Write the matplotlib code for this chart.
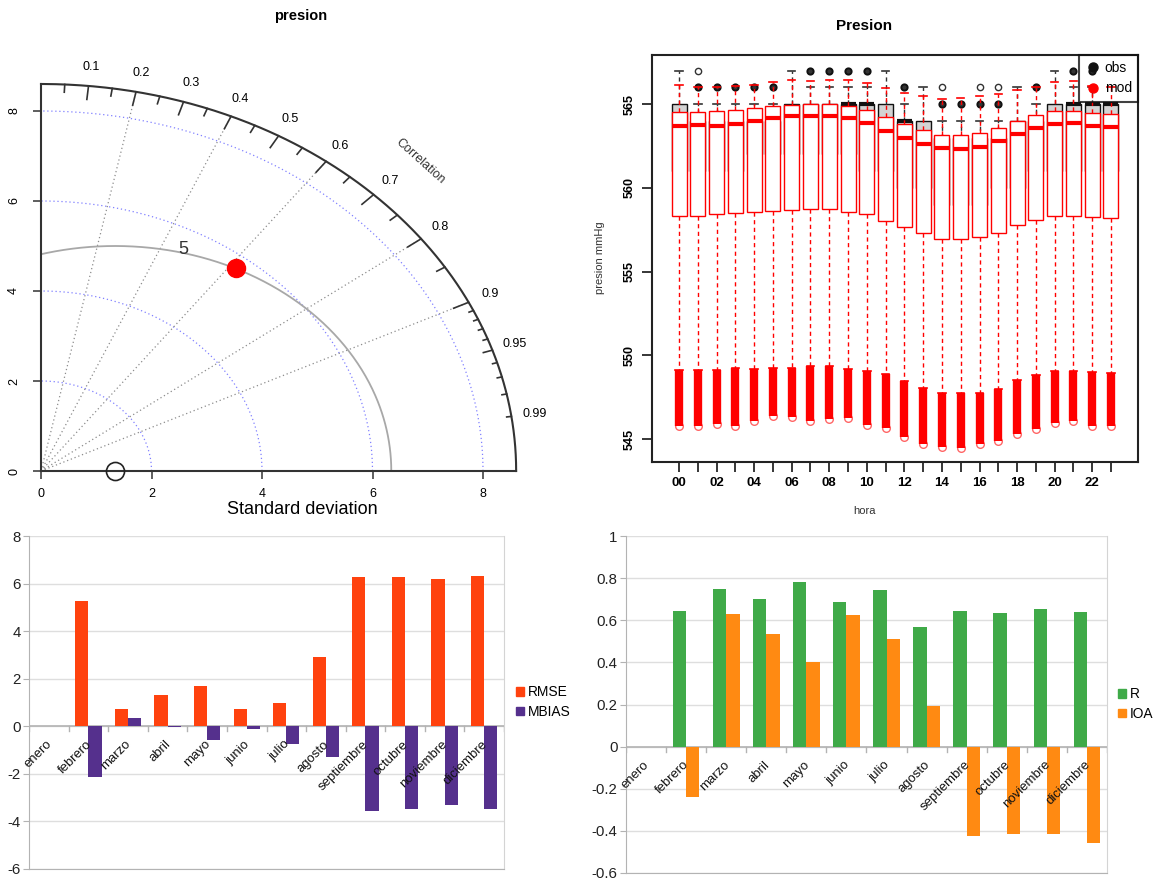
import numpy as np
import matplotlib
matplotlib.use('Agg')
import matplotlib.pyplot as plt
from matplotlib.lines import Line2D
from matplotlib.patches import Rectangle, Patch
from matplotlib.transforms import ScaledTranslation
from matplotlib import font_manager as fm

# ---------------- data ----------------
# Taylor diagram
taylor_title = 'presion'
obs_sd = 1.34
mod_sd = 5.73
mod_corr = 0.616
max_sd = 8.6
sd_ticks = [0, 2, 4, 6, 8]
sd_grid = [2, 4, 6, 8]
corr_grid = [0.2, 0.4, 0.6, 0.8, 0.9]
corr_labels = [0.1, 0.2, 0.3, 0.4, 0.5, 0.6, 0.7, 0.8, 0.9, 0.95, 0.99]
corr_big = [0.1, 0.2, 0.3, 0.4, 0.5, 0.6, 0.7, 0.8, 0.9]
corr_med = [0.05, 0.15, 0.25, 0.35, 0.45, 0.55, 0.65, 0.75, 0.85, 0.95]
corr_small = [0.91, 0.92, 0.93, 0.94, 0.96, 0.97, 0.98, 0.99]
rms_levels = [5]

# Box plot (hourly pressure)
box_title = 'Presion'
hours = list(range(24))
hour_labels = ['00', '', '02', '', '04', '', '06', '', '08', '', '10', '',
               '12', '', '14', '', '16', '', '18', '', '20', '', '22', '']
press_ticks = [545, 550, 555, 560, 565]

mod_q3 = [564.54, 564.52, 564.60, 564.64, 564.78, 564.88, 564.96, 565.00, 565.00, 564.88, 564.64, 564.20,
          563.80, 563.45, 563.17, 563.13, 563.25, 563.57, 563.97, 564.32, 564.58, 564.58, 564.46, 564.38]
mod_med = [563.71, 563.77, 563.71, 563.79, 564.00, 564.14, 564.26, 564.30, 564.26, 564.14, 563.87, 563.41,
           562.99, 562.61, 562.37, 562.31, 562.45, 562.79, 563.23, 563.59, 563.83, 563.85, 563.69, 563.61]
mod_q1 = [558.33, 558.33, 558.41, 558.47, 558.55, 558.61, 558.67, 558.73, 558.73, 558.57, 558.41, 558.03,
          557.64, 557.28, 556.94, 556.94, 557.04, 557.28, 557.76, 558.09, 558.33, 558.33, 558.27, 558.19]
mod_lo = [549.12, 549.12, 549.12, 549.22, 549.18, 549.26, 549.26, 549.38, 549.38, 549.18, 549.08, 548.88,
          548.46, 548.03, 547.73, 547.73, 547.73, 548.00, 548.52, 548.82, 549.08, 549.08, 548.98, 548.92]
mod_min = [545.80, 545.76, 545.90, 545.80, 546.10, 546.35, 546.29, 546.10, 546.17, 546.23, 545.84, 545.64,
           545.14, 544.70, 544.54, 544.48, 544.70, 544.90, 545.30, 545.58, 545.94, 546.10, 545.80, 545.80]
mod_hi = [566.13, 566.00, 566.00, 566.07, 566.13, 566.29, 566.43, 566.39, 566.43, 566.43, 566.27, 565.94,
          565.64, 565.50, 565.30, 565.38, 565.46, 565.58, 565.84, 566.00, 566.33, 566.37, 566.09, 566.00]

obs_q3 = [565, 564, 564, 564, 564, 564, 565, 565, 565, 565, 565, 565,
          564, 564, 563, 563, 563, 563, 564, 564, 565, 565, 565, 565]
obs_med = [564, 563, 563, 563, 563, 563, 564, 564, 564, 565, 565, 564,
           564, 563, 562, 562, 562, 562, 563, 563, 564, 565, 565, 565]
obs_q1 = [561, 561, 561, 561, 562, 562, 562, 562, 562, 562, 561, 561,
          560, 560, 559, 559, 559, 560, 560, 561, 561, 561, 561, 561]
obs_hi = [567, 565, 565, 565, 565, 565, 567, 566, 566, 566, 566, 567,
          565, 566, 564, 564, 564, 564, 566, 565, 567, 566, 566, 565]
obs_out_hour_dense = [1, 2, 3, 4, 5, 7, 8, 9, 10, 12, 14, 15, 16, 17, 19, 21, 22]
obs_out_val_dense = [566, 566, 566, 566, 566, 567, 567, 567, 567, 566, 565, 565, 565, 565, 566, 567, 567]
obs_out_hour_single = [1, 14, 16, 17]
obs_out_val_single = [567, 566, 566, 566]

# Monthly bar charts
months = ['enero', 'febrero', 'marzo', 'abril', 'mayo', 'junio', 'julio', 'agosto',
          'septiembre', 'octubre', 'noviembre', 'diciembre']
rmse = [0, 5.25, 0.74, 1.33, 1.69, 0.74, 0.97, 2.90, 6.27, 6.27, 6.18, 6.32]
mbias = [0, -2.13, 0.34, -0.04, -0.56, -0.13, -0.73, -1.29, -3.57, -3.47, -3.33, -3.47]
r_vals = [0, 0.646, 0.748, 0.700, 0.780, 0.687, 0.743, 0.567, 0.646, 0.635, 0.655, 0.639]
ioa_vals = [0, -0.241, 0.630, 0.537, 0.402, 0.624, 0.512, 0.194, -0.424, -0.417, -0.417, -0.458]
err_ticks = [-6, -4, -2, 0, 2, 4, 6, 8]
err_ticklabels = ['-6', '-4', '-2', '0', '2', '4', '6', '8']
skill_ticks = [-0.6, -0.4, -0.2, 0, 0.2, 0.4, 0.6, 0.8, 1.0]
skill_ticklabels = ['-0.6', '-0.4', '-0.2', '0', '0.2', '0.4', '0.6', '0.8', '1']

# ---------------- fonts ----------------
avail = {f.name for f in fm.fontManager.ttflist}
def pick(*names):
    for n in names:
        if n in avail:
            return n
    return 'DejaVu Sans'
SANS = pick('Liberation Sans', 'Arial', 'DejaVu Sans')
NARROW = pick('Liberation Sans Narrow', 'Liberation Sans', 'DejaVu Sans')
NARROW_SCALE = 1.0 if NARROW == 'Liberation Sans Narrow' else 0.9
plt.rcParams['font.family'] = [SANS, 'DejaVu Sans']

W, H = 1154, 882
fig = plt.figure(figsize=(W / 100, H / 100), dpi=100)


def ax_px(l, t, r, b):
    return fig.add_axes([l / W, 1 - b / H, (r - l) / W, (b - t) / H])


# ======================= Taylor diagram =======================
ext = 9.6
ax1 = ax_px(41, 471 - ext * 45, 41 + ext * 55.25, 471)
ax1.set_xlim(0, ext)
ax1.set_ylim(0, ext)
ax1.patch.set_alpha(0)
for sp in ['top', 'right']:
    ax1.spines[sp].set_visible(False)
for sp in ['left', 'bottom']:
    ax1.spines[sp].set_bounds(0, max_sd)
    ax1.spines[sp].set_color('#333333')
    ax1.spines[sp].set_linewidth(1.5)
ax1.set_xticks(sd_ticks)
ax1.set_yticks(sd_ticks)
ax1.tick_params(direction='out', length=6, width=1.1, color='#333333', labelsize=9)
ax1.tick_params(axis='x', pad=6)
ax1.tick_params(axis='y', pad=9)
for lab in ax1.get_yticklabels():
    lab.set_rotation(90)
    lab.set_va('center')

th = np.linspace(0, np.pi / 2, 300)
# sd grid arcs (blue dotted)
for r in sd_grid:
    ax1.plot(r * np.cos(th), r * np.sin(th), linestyle=(0, (1, 2.2)), color='#8080ff', lw=0.9)
# correlation radial lines
for c in corr_grid:
    ax1.plot([0, max_sd * c], [0, max_sd * np.sqrt(1 - c * c)], linestyle=(0, (1, 2.2)),
             color='#8c8c8c', lw=0.9)
# RMS arcs
phi = np.linspace(0, np.pi, 600)
for rr in rms_levels:
    xx = obs_sd + rr * np.cos(phi)
    yy = rr * np.sin(phi)
    m = (xx >= 0) & (xx ** 2 + yy ** 2 <= max_sd ** 2)
    ax1.plot(xx[m], yy[m], color='#a8a8a8', lw=1.3)
    ang = np.deg2rad(76)
    ax1.text(obs_sd + (rr + 0.1) * np.cos(ang), (rr + 0.1) * np.sin(ang) - 0.02, str(rr),
             fontsize=13, color='#333333', ha='center', va='center')
# outer arc
ax1.plot(max_sd * np.cos(th), max_sd * np.sin(th), color='#333333', lw=1.5, clip_on=False)
for lst, f in [(corr_big, 0.965), (corr_med, 0.98), (corr_small, 0.99)]:
    for c in lst:
        s = np.sqrt(1 - c * c)
        ax1.plot([max_sd * c, f * max_sd * c], [max_sd * s, f * max_sd * s], color='#333333', lw=1.2)
for c in corr_labels:
    s = np.sqrt(1 - c * c)
    ax1.text(1.05 * max_sd * c, 1.05 * max_sd * s, f'{c:g}', fontsize=9, ha='center', va='center',
             clip_on=False)
ax1.text(1.13 * max_sd * np.cos(np.pi / 4), 1.13 * max_sd * np.sin(np.pi / 4), 'Correlation',
         rotation=-42, fontsize=9, ha='center', va='center', color='#333333')
# points
ax1.plot([obs_sd], [0], 'o', mfc='none', mec='#222222', ms=13, mew=1.2, clip_on=False, zorder=5)
ax1.plot([mod_sd * mod_corr], [mod_sd * np.sqrt(1 - mod_corr ** 2)], 'o', color='#ff0000', ms=13,
         zorder=6)
fig.text(302 / W, 1 - 510 / H, 'Standard deviation', ha='center', va='center', fontsize=13)
fig.text(301 / W, 1 - 16 / H, taylor_title, ha='center', va='center', fontsize=10.5, weight='bold')

# ======================= Box plot =======================
ax2 = ax_px(652, 55, 1138, 462)
ax2.set_xlim(-1.44, 24.44)
ax2.set_ylim(543.63, 567.93)
for sp in ax2.spines.values():
    sp.set_linewidth(1.5)
    sp.set_color('#222222')
ax2.set_xticks(hours)
ax2.set_xticklabels(hour_labels, fontsize=9.5, weight='bold')
ax2.set_yticks(press_ticks)
ax2.set_yticklabels([str(v) for v in press_ticks], fontsize=9, weight='bold', rotation=90, va='center')
ax2.tick_params(axis='x', length=7, width=1.1, pad=4)
ax2.tick_params(axis='y', length=7, width=1.1, pad=5)

bw = 0.8
cw = 0.4
dash = (0, (3, 2.5))
red = '#ff0000'
for i, h in enumerate(hours):
    # observed
    ax2.add_patch(Rectangle((h - bw / 2, obs_q1[i]), bw, obs_q3[i] - obs_q1[i], facecolor='#d3d3d3',
                            edgecolor='#111111', lw=1.0, zorder=2))
    ax2.plot([h - bw / 2, h + bw / 2], [obs_med[i], obs_med[i]], color='#111111', lw=3, zorder=2.1,
             solid_capstyle='butt')
    ax2.plot([h, h], [obs_q3[i], obs_hi[i]], color='#333333', lw=1.0, linestyle=dash, zorder=2)
    ax2.plot([h - cw / 2, h + cw / 2], [obs_hi[i], obs_hi[i]], color='#333333', lw=1.2, zorder=2)
ax2.plot(obs_out_hour_dense, obs_out_val_dense, 'o', mfc='#333333', mec='#111111', ms=4.5, mew=1.4,
         zorder=2)
ax2.plot(obs_out_hour_single, obs_out_val_single, 'o', mfc='none', mec='#333333', ms=4.5, mew=1,
         zorder=2)
for i, h in enumerate(hours):
    # model
    ax2.add_patch(Rectangle((h - bw / 2, mod_q1[i]), bw, mod_q3[i] - mod_q1[i], facecolor='white',
                            edgecolor=red, lw=1.0, zorder=3))
    ax2.plot([h - bw / 2, h + bw / 2], [mod_med[i], mod_med[i]], color=red, lw=3, zorder=3.1,
             solid_capstyle='butt')
    ax2.plot([h, h], [mod_q3[i], mod_hi[i]], color=red, lw=1.0, linestyle=dash, zorder=3)
    ax2.plot([h, h], [mod_q1[i], mod_lo[i]], color=red, lw=1.0, linestyle=dash, zorder=3)
    ax2.plot([h - cw / 2, h + cw / 2], [mod_hi[i], mod_hi[i]], color=red, lw=1.2, zorder=3)
    ax2.plot([h - cw / 2, h + cw / 2], [mod_lo[i], mod_lo[i]], color=red, lw=1.2, zorder=3)
ax2.vlines(hours, mod_min, mod_lo, color=red, lw=6, zorder=3)
ax2.plot(hours, mod_min, 'o', mfc='none', mec=red, ms=5.5, mew=1, alpha=0.6, zorder=3)

leg = ax2.legend(handles=[Line2D([], [], ls='none', marker='o', color='#111111', ms=6.5, label='obs'),
                          Line2D([], [], ls='none', marker='o', color=red, ms=6.5, label='mod')],
                 loc='upper right', frameon=True, fancybox=False, borderaxespad=0, fontsize=10,
                 handletextpad=0.3, handlelength=1.1, borderpad=0.45, labelspacing=0.45)
leg.get_frame().set_edgecolor('#111111')
leg.get_frame().set_facecolor('none')
leg.get_frame().set_linewidth(1.5)
leg.set_zorder(10)
fig.text(864 / W, 1 - 26 / H, box_title, ha='center', va='center', fontsize=11, weight='bold')
fig.text(864 / W, 1 - 511 / H, 'hora', ha='center', va='center', fontsize=8, color='#333333')
fig.text(600 / W, 1 - 258 / H, 'presion mmHg', ha='center', va='center', fontsize=8, rotation=90,
         color='#333333')


# ======================= Bar charts =======================
def bar_panel(l, t, r, b, v1, v2, c1, c2, ticks, ticklabels, ylim, names, leg_x, leg_y):
    ax = ax_px(l, t, r, b)
    x = np.arange(len(months))
    ax.bar(x - 1 / 6, v1, width=1 / 3, color=c1, zorder=3)
    ax.bar(x + 1 / 6, v2, width=1 / 3, color=c2, zorder=3)
    ax.set_xlim(-0.5, len(months) - 0.5)
    ax.set_ylim(*ylim)
    ax.set_yticks(ticks)
    ax.set_yticklabels(ticklabels, fontfamily=NARROW, fontsize=12 * NARROW_SCALE, color='#222222')
    ax.set_xticks([])
    ax.grid(axis='y', color='#dedede', lw=1)
    ax.set_axisbelow(True)
    ax.axhline(0, color='#b3b3b3', lw=1.2, zorder=2)
    ppu = (b - t) / (ylim[1] - ylim[0])
    for xb in np.arange(-0.5, len(months), 1.0):
        ax.plot([xb, xb], [0, -5 / ppu], color='#b3b3b3', lw=1, zorder=2)
    ax.spines['top'].set_visible(False)
    ax.spines['left'].set_color('#b3b3b3')
    ax.spines['right'].set_color('#d4d4d4')
    ax.spines['bottom'].set_color('#b3b3b3')
    ax.tick_params(axis='y', length=4, color='#b3b3b3', pad=2)
    off = ax.transData + ScaledTranslation(-3 / 100, -12 / 100, fig.dpi_scale_trans)
    for i, mname in enumerate(months):
        ax.text(i, 0, mname, rotation=45, ha='right', va='top', rotation_mode='anchor',
                transform=off, fontfamily=NARROW, fontsize=10.5 * NARROW_SCALE, color='#111111',
                zorder=5)
    fig.legend(handles=[Patch(color=c1, label=names[0]), Patch(color=c2, label=names[1])],
               loc='center left', bbox_to_anchor=(leg_x / W, 1 - leg_y / H), frameon=False,
               handlelength=0.55, handleheight=0.55, handletextpad=0.3, labelspacing=0.4,
               borderpad=0, borderaxespad=0,
               prop={'family': NARROW, 'size': 11 * NARROW_SCALE})
    return ax


bar_panel(29, 536, 504, 869, rmse, mbias, '#ff420e', '#55308d', err_ticks, err_ticklabels,
          (-6, 8), ['RMSE', 'MBIAS'], 516, 702)
bar_panel(626, 536, 1107, 873, r_vals, ioa_vals, '#3faa48', '#ff8a12', skill_ticks, skill_ticklabels,
          (-0.6, 1.0), ['R', 'IOA'], 1118, 704)

fig.savefig('out.png', dpi=100)
